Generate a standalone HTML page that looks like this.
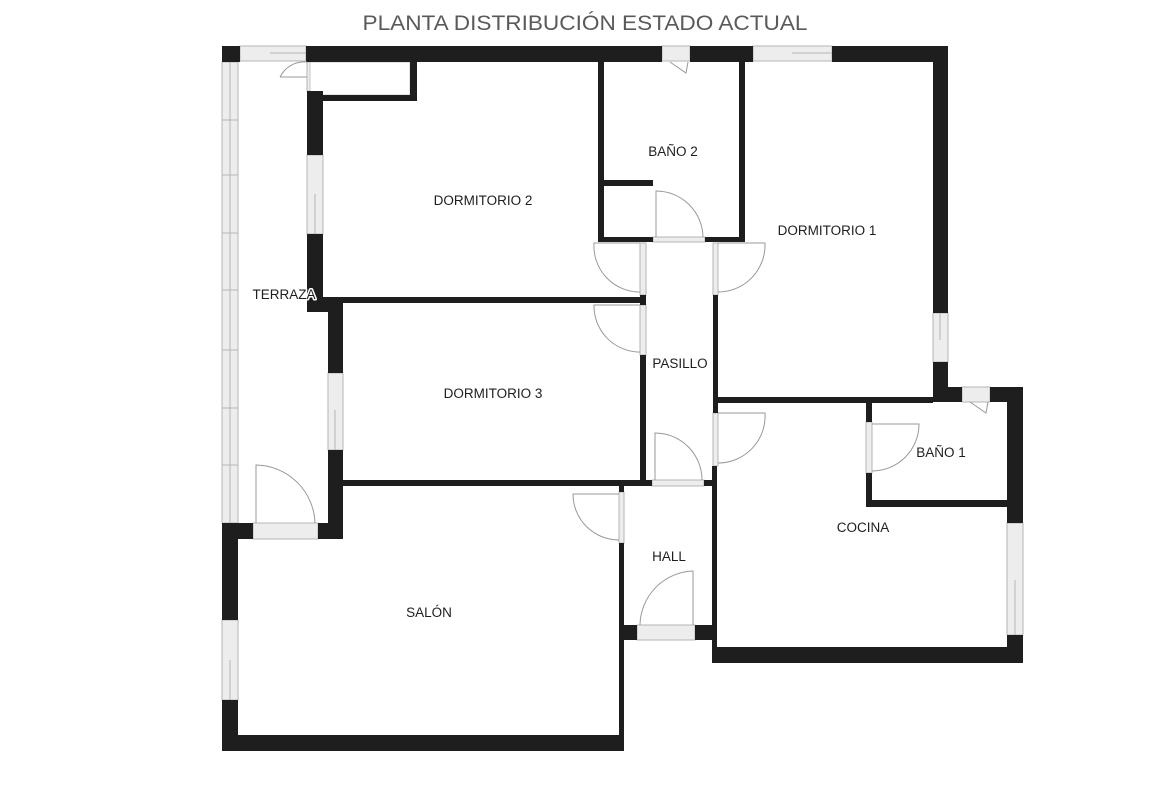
<!DOCTYPE html>
<html><head><meta charset="utf-8"><style>
html,body{margin:0;padding:0;background:#fff;}
svg{display:block;}
text{font-family:"Liberation Sans",sans-serif;}
</style></head><body>
<svg width="1170" height="785" viewBox="0 0 1170 785" xmlns="http://www.w3.org/2000/svg">
<text x="585" y="30" font-size="21" fill="#5a5a5a" text-anchor="middle" textLength="445" lengthAdjust="spacingAndGlyphs">PLANTA DISTRIBUCIÓN ESTADO ACTUAL</text>

<!-- windows (glass) -->
<g fill="#ededed" stroke="#b5b5b5" stroke-width="1">
  <rect x="240" y="46" width="66" height="15"/>
  <rect x="662" y="46" width="28" height="15"/>
  <rect x="753" y="46" width="79" height="15"/>
  <rect x="933" y="313" width="15" height="49"/>
  <rect x="962" y="387" width="28" height="15"/>
  <rect x="1007" y="523" width="16" height="112"/>
  <rect x="222" y="62" width="16" height="461"/>
  <rect x="307" y="155" width="16" height="79"/>
  <rect x="328" y="373" width="15" height="77"/>
  <rect x="222" y="620" width="16" height="80"/>
  <rect x="253" y="523" width="65" height="16"/>
  <rect x="637" y="625" width="58" height="15"/>
  <rect x="653" y="237" width="52" height="5"/>
  <rect x="652" y="480" width="52" height="6"/>
  <rect x="640" y="243" width="6" height="52"/>
  <rect x="640" y="305" width="6" height="50"/>
  <rect x="713" y="243" width="5" height="52"/>
  <rect x="713" y="413" width="5" height="53"/>
  <rect x="619" y="492" width="5" height="51"/>
  <rect x="866" y="422" width="6" height="51"/>
  <rect x="307" y="62" width="3" height="29"/>
</g>
<g stroke="#b5b5b5" stroke-width="1" fill="none">
  <line x1="222" y1="120" x2="238" y2="120"/><line x1="222" y1="175" x2="238" y2="175"/>
  <line x1="222" y1="233" x2="238" y2="233"/><line x1="222" y1="290" x2="238" y2="290"/>
  <line x1="222" y1="350" x2="238" y2="350"/><line x1="222" y1="408" x2="238" y2="408"/>
  <line x1="222" y1="465" x2="238" y2="465"/>
  <line x1="230" y1="62" x2="230" y2="523"/>
  <line x1="270" y1="53" x2="306" y2="53"/>
  <line x1="792" y1="53" x2="832" y2="53"/>
  <line x1="315" y1="194" x2="315" y2="234"/>
  <line x1="335" y1="410" x2="335" y2="450"/>
  <line x1="230" y1="660" x2="230" y2="700"/>
  <line x1="1015" y1="580" x2="1015" y2="635"/>
  <line x1="940" y1="313" x2="940" y2="340"/>
  <rect x="310" y="62" width="100" height="33" stroke="#c8c8c8"/>
</g>

<!-- walls -->
<g fill="#1e1e1e">
  <rect x="222" y="46" width="18" height="16"/>
  <rect x="306" y="46" width="356" height="16"/>
  <rect x="690" y="46" width="63" height="16"/>
  <rect x="832" y="46" width="116" height="16"/>
  <rect x="933" y="46" width="15" height="267"/>
  <rect x="933" y="362" width="15" height="40"/>
  <rect x="933" y="387" width="29" height="15"/>
  <rect x="990" y="387" width="33" height="15"/>
  <rect x="1007" y="387" width="16" height="136"/>
  <rect x="1007" y="635" width="16" height="28"/>
  <rect x="712" y="647" width="311" height="16"/>
  <rect x="712" y="625" width="5" height="38"/>
  <rect x="695" y="625" width="22" height="15"/>
  <rect x="619" y="625" width="18" height="15"/>
  <rect x="712" y="466" width="5" height="181"/>
  <rect x="713" y="295" width="5" height="118"/>
  <rect x="713" y="397" width="220" height="6"/>
  <rect x="866" y="403" width="6" height="19"/>
  <rect x="866" y="473" width="6" height="34"/>
  <rect x="866" y="500" width="141" height="7"/>
  <rect x="619" y="486" width="5" height="6"/>
  <rect x="619" y="543" width="5" height="208"/>
  <rect x="222" y="735" width="402" height="16"/>
  <rect x="222" y="523" width="16" height="97"/>
  <rect x="222" y="700" width="16" height="51"/>
  <rect x="222" y="523" width="31" height="16"/>
  <rect x="318" y="523" width="25" height="16"/>
  <rect x="328" y="450" width="15" height="89"/>
  <rect x="328" y="297" width="15" height="76"/>
  <rect x="307" y="297" width="36" height="15"/>
  <rect x="307" y="91" width="16" height="64"/>
  <rect x="307" y="234" width="16" height="78"/>
  <rect x="307" y="95" width="110" height="6"/>
  <rect x="410" y="62" width="7" height="39"/>
  <rect x="323" y="297" width="322" height="6"/>
  <rect x="343" y="480" width="309" height="6"/>
  <rect x="704" y="480" width="13" height="6"/>
  <rect x="640" y="355" width="6" height="131"/>
  <rect x="640" y="295" width="6" height="10"/>
  <rect x="598" y="62" width="6" height="180"/>
  <rect x="739" y="62" width="6" height="180"/>
  <rect x="598" y="237" width="55" height="5"/>
  <rect x="705" y="237" width="40" height="5"/>
  <rect x="598" y="180" width="55" height="6"/>
</g>

<!-- doors -->
<g stroke="#999" stroke-width="1" fill="none">
  <path d="M307 77 L280 77 M280 77 A27 27 0 0 1 307 62"/>
  <path d="M656 237 L656 191 A47 47 0 0 1 703 237"/>
  <path d="M640 243 L594 243 A46 46 0 0 0 640 292"/>
  <path d="M640 305 L594 305 A46 46 0 0 0 640 352"/>
  <path d="M718 243 L765 243 A47 47 0 0 1 718 292"/>
  <path d="M718 413 L765 413 A47 47 0 0 1 718 463"/>
  <path d="M655 480 L655 433 A47 47 0 0 1 702 480"/>
  <path d="M619 494 L573 494 A46 46 0 0 0 619 540"/>
  <path d="M256 523 L256 465 A60 60 0 0 1 315 523"/>
  <path d="M640 625 A55 55 0 0 1 693 571 L693 625"/>
  <path d="M872 424 L919 424 A47 47 0 0 1 872 471"/>
  <path d="M670 62 L686 73 L688 62"/>
  <path d="M970 402 L986 413 L988 402"/>
</g>

<!-- labels -->
<g font-size="13.5" fill="#1e1e1e" text-anchor="middle" stroke="#fff" stroke-width="3" paint-order="stroke" stroke-linejoin="round">
  <text x="483" y="205">DORMITORIO 2</text>
  <text x="673" y="156">BAÑO 2</text>
  <text x="827" y="235">DORMITORIO 1</text>
  <text x="284" y="299">TERRAZA</text>
  <text x="680" y="368">PASILLO</text>
  <text x="493" y="398">DORMITORIO 3</text>
  <text x="941" y="457">BAÑO 1</text>
  <text x="863" y="532">COCINA</text>
  <text x="669" y="561">HALL</text>
  <text x="429" y="617">SALÓN</text>
</g>
</svg>
</body></html>
